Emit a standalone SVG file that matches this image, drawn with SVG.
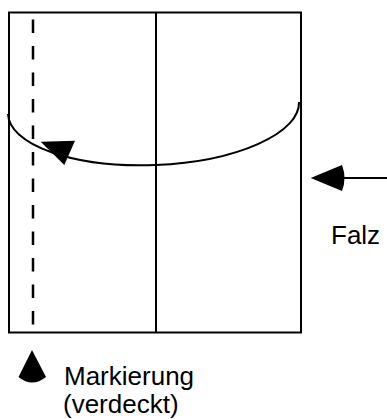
<svg xmlns="http://www.w3.org/2000/svg" width="387" height="419" viewBox="0 0 387 419">
<style>
.ln{fill:none;stroke:#000;stroke-width:2}
.hd{fill:#000;stroke:none}
.tx{font-family:"Liberation Sans",Arial,sans-serif;font-size:26px;fill:#000}
</style>
<rect width="387" height="419" fill="#fff"/>
<g id="sheet">
<rect class="ln" x="9" y="12.5" width="292" height="320"/>
<line class="ln" x1="156" y1="12.5" x2="156" y2="332.5"/>
</g>
<g id="mark-line">
<line x1="33" y1="19.5" x2="33" y2="325" stroke="#000" stroke-width="2.5" stroke-dasharray="13.5 13"/>
</g>
<g id="connectors">
<path class="ln" d="M8,114 A145.5,57 -2.4 0 0 299,102"/>
<polygon class="hd" points="40.7,141.7 75,140.7 64.3,165"/>
<line class="ln" x1="340" y1="178" x2="387" y2="178"/>
<path class="hd" d="M310.7,178 L342,165 Q347,178 342,191 Z"/>
</g>
<g id="falz">
<text class="tx" x="331" y="244">Falz</text>
</g>
<g id="marker">
<path class="hd" d="M32,350 L18.5,377 Q32,388 46,377 Z"/>
<text class="tx" x="64" y="385">Markierung</text>
<text class="tx" x="63" y="413">(verdeckt)</text>
</g>
</svg>
